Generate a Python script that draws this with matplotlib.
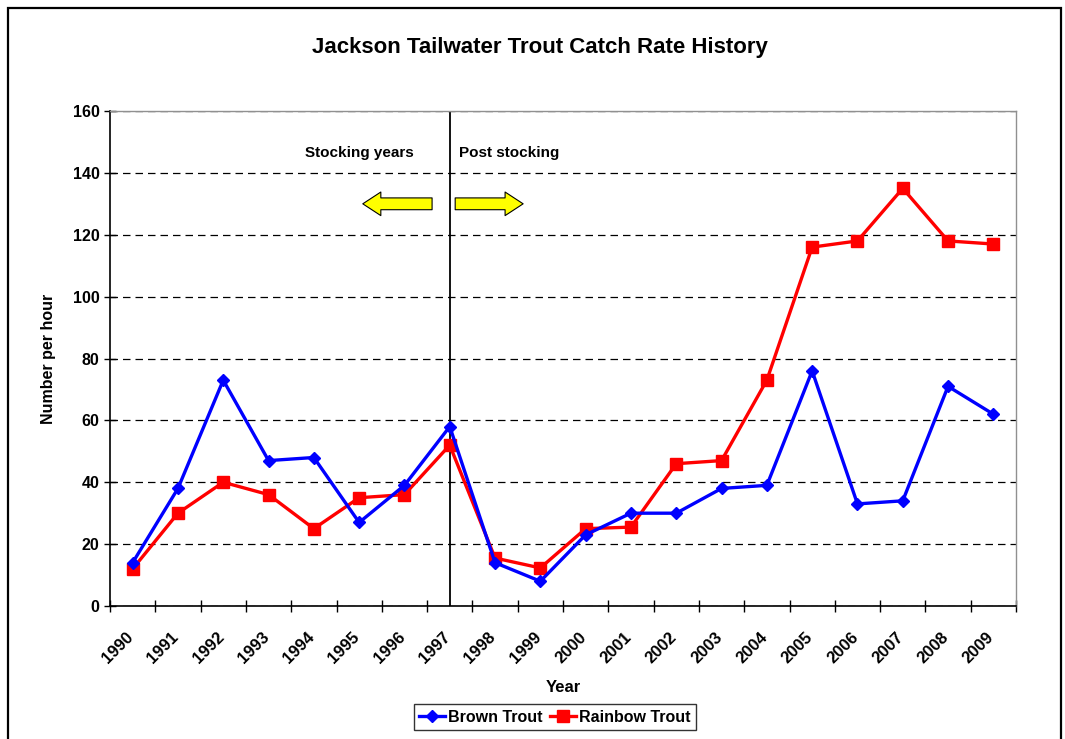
import matplotlib.pyplot as plt
from matplotlib.patches import Rectangle, FancyArrowPatch
from matplotlib.transforms import ScaledTranslation

plt.rcParams['font.family'] = ['Liberation Sans', 'DejaVu Sans']
plt.rcParams['font.weight'] = 'bold'

# data
years = [str(y) for y in range(1990, 2010)]
brown_trout = [14, 38, 73, 47, 48, 27, 39, 58, 14, 8, 23, 30, 30, 38, 39, 76, 33, 34, 71, 62]
rainbow_trout = [12, 30, 40, 36, 25, 35, 36, 52, 15.5, 12.3, 25, 25.5, 46, 47, 73, 116, 118, 135, 118, 117]
stocking_end = '1997'

fig = plt.figure(figsize=(10.65, 7.39), dpi=100)
ax = fig.add_axes([110 / 1065, 1 - 606 / 739, 906 / 1065, 495 / 739])

# outer chart frame (bottom edge cut off like the reference)
fig.patches.append(Rectangle((8 / 1065, -0.05), 1053 / 1065, 1.05 - 8 / 739,
                             transform=fig.transFigure, fill=False, ec='black', lw=1.6))

x = list(range(len(years)))
ax.plot(x, brown_trout, color='#0000ff', lw=2.4, marker='D', ms=6.5, label='Brown Trout', zorder=4)
ax.plot(x, rainbow_trout, color='#ff0000', lw=2.4, marker='s', ms=8, label='Rainbow Trout', zorder=3)

# stocking divider
xs = years.index(stocking_end)
ax.axvline(xs, color='black', lw=1.3, zorder=2)

ax.set_xlim(-0.5, len(years) - 0.5)
ax.set_ylim(0, 160)
ax.set_yticks(range(0, 161, 20))
ax.yaxis.grid(True, color='black', ls=(0, (6, 4)), lw=0.9)
ax.set_axisbelow(True)

ax.set_xticks([i - 0.5 for i in range(len(years) + 1)])
ax.set_xticklabels([])
ax.set_xticks(x, minor=True)
ax.set_xticklabels(years, minor=True, rotation=45, ha='right', va='top',
                   rotation_mode='anchor', fontsize=12, fontweight='bold')
ax.tick_params(axis='x', which='minor', length=0, pad=17)
ax.tick_params(axis='both', which='major', direction='inout', length=8, width=1, labelsize=11.5)
shift = ScaledTranslation(-7 / 100, 0, fig.dpi_scale_trans)
for lbl in ax.get_xticklabels(minor=True):
    lbl.set_transform(lbl.get_transform() + shift)
for lbl in ax.get_yticklabels():
    lbl.set_fontweight('bold')

for side in ['left', 'bottom']:
    ax.spines[side].set_color('black')
    ax.spines[side].set_linewidth(1.2)
for side in ['top', 'right']:
    ax.spines[side].set_color('#909090')
    ax.spines[side].set_linewidth(1)

ax.set_xlabel('Year', fontsize=12, fontweight='bold')
ax.xaxis.set_label_coords(0.5, (606 - 680) / 495)
ax.set_ylabel('Number per hour', fontsize=11.5, fontweight='bold', labelpad=12)
fig.text(540 / 1065, 1 - 47 / 739, 'Jackson Tailwater Trout Catch Rate History',
         ha='center', va='center', fontsize=16, fontweight='bold')

ax.text(6.21, 146.5, 'Stocking years', ha='right', va='center', fontsize=11, fontweight='bold')
ax.text(7.2, 146.5, 'Post stocking', ha='left', va='center', fontsize=11, fontweight='bold')

style = 'simple,head_width=1.7,head_length=1.3,tail_width=0.85'
for tail, tip in [(6.61, 5.08), (7.12, 8.62)]:
    ax.add_patch(FancyArrowPatch((tail, 130), (tip, 130), arrowstyle=style, mutation_scale=10,
                                 fc='#ffff00', ec='black', lw=0.8, shrinkA=0, shrinkB=0, zorder=5))

leg = fig.legend(loc='center', bbox_to_anchor=(555 / 1065, 1 - 717 / 739), ncol=2,
                 frameon=True, fancybox=False, edgecolor='black',
                 handlelength=1.6, columnspacing=0.5, handletextpad=0.2, borderpad=0.35,
                 prop={'weight': 'bold', 'size': 11.5})
leg.get_frame().set_linewidth(1)

fig.savefig('out.png', dpi=100)
